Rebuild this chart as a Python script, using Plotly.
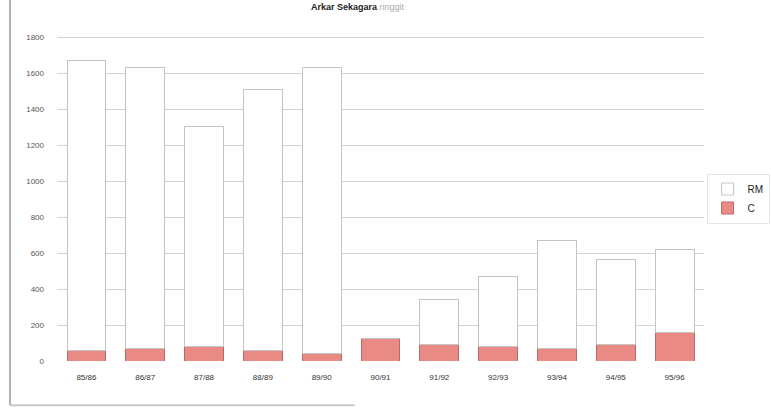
import plotly.graph_objects as go

# Seasonal totals, split into the two stacked components
seasons = ["85/86", "86/87", "87/88", "88/89", "89/90", "90/91",
           "91/92", "92/93", "93/94", "94/95", "95/96"]
c_values = [56, 67, 80, 57, 43, 126, 89, 80, 70, 89, 157]
rm_values = [1612, 1565, 1222, 1449, 1589, 0, 255, 388, 597, 476, 464]
y_ticks = [0, 200, 400, 600, 800, 1000, 1200, 1400, 1600, 1800]

FONT = "Liberation Sans, Arial, sans-serif"

fig = go.Figure()
fig.add_trace(go.Bar(
    x=seasons, y=c_values, name="C",
    marker=dict(color="#e98a84", line=dict(color="#b46a66", width=1)),
))
fig.add_trace(go.Bar(
    x=seasons, y=rm_values, name="RM",
    marker=dict(color="rgba(255,255,255,1)", line=dict(color="#c4c4c4", width=1)),
))

fig.update_layout(
    width=771, height=410,
    barmode="stack", bargap=0.34,
    margin=dict(l=57, r=67, t=36, b=49, autoexpand=False),
    paper_bgcolor="white", plot_bgcolor="white",
    font=dict(family=FONT, size=8, color="#444"),
    showlegend=True,
    legend=dict(
        x=1.004, y=0.5, xanchor="left", yanchor="middle",
        traceorder="reversed",
        bordercolor="#e6e6e6", borderwidth=1,
        font=dict(size=10, color="#222"),
        itemwidth=30,
    ),
    xaxis=dict(
        showgrid=False, showline=False, ticks="",
        tickfont=dict(size=8, color="#333"),
        ticklabelstandoff=10,
    ),
    yaxis=dict(
        range=[0, 1806], tickvals=y_ticks,
        showgrid=True, gridcolor="#d2d2d2", gridwidth=1,
        zeroline=False, showline=False, ticks="",
        tickfont=dict(size=8, color="#555"),
        ticklabelstandoff=12,
    ),
    annotations=[dict(
        text="<b>Arkar Sekagara</b> <span style='color:#aaa'>ringgit</span>",
        xref="paper", yref="paper", x=0.465, y=1.09,
        xanchor="center", yanchor="middle", showarrow=False,
        font=dict(size=9, color="#222"),
    )],
    shapes=[
        dict(type="line", xref="paper", yref="paper",
             x0=-0.0726, x1=-0.0726, y0=-0.136, y1=1.12,
             line=dict(color="#b0b0b0", width=2)),
        dict(type="line", xref="paper", yref="paper",
             x0=-0.0726, x1=0.46, y0=-0.136, y1=-0.136,
             line=dict(color="#c8c8c8", width=2)),
    ],
)

fig.write_html("out.html")
